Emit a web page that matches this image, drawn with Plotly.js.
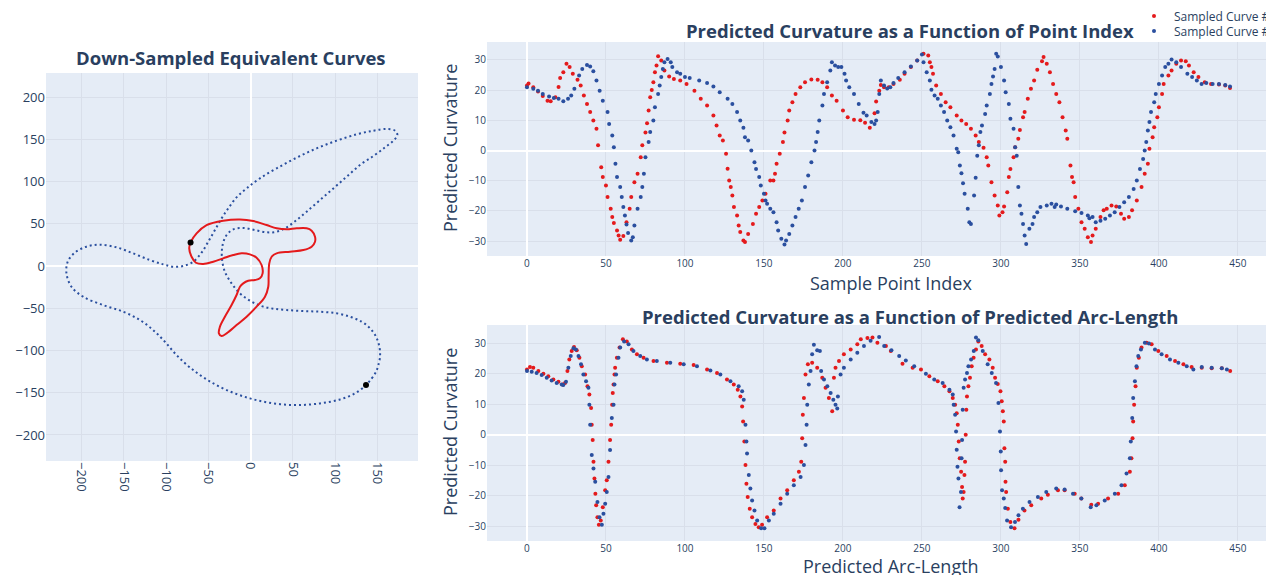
<!DOCTYPE html>
<html>
<head>
<meta charset="utf-8">
<script src="https://cdn.plot.ly/plotly-3.0.1.min.js"></script>
<style>html,body{margin:0;padding:0;overflow:hidden;background:#fff}</style>
</head>
<body>
<div id="chart"></div>
<script>
// ---------- Left panel: down-sampled curves (x, y) ----------
const curve1X = [-71.0,-63.9,-52.1,-32.4,-12.6,3.2,18.9,30.8,42.6,54.5,66.3,72.2,76.2,76.2,72.2,62.4,46.6,30.8,24.9,22.1,21.3,20.9,17.0,7.1,-4.7,-16.6,-28.4,-34.3,-37.5,-36.3,-30.4,-22.5,-16.6,-12.6,-8.7,-2.8,5.1,11.0,14.2,13.0,7.1,-0.8,-10.7,-20.5,-32.4,-44.2,-56.0,-64.7,-69.8,-72.6];
const curve1Y = [28.0,38.7,48.5,53.7,55.2,53.3,48.5,44.6,43.4,44.6,44.6,41.8,34.7,28.8,22.9,18.9,17.0,15.0,11.0,3.2,-12.6,-24.5,-36.3,-48.1,-60.0,-69.9,-79.7,-82.9,-79.7,-71.8,-60.0,-46.2,-34.3,-24.5,-20.5,-17.4,-16.6,-14.6,-8.7,1.2,9.9,13.8,15.0,13.0,9.1,5.1,2.4,3.9,11.0,20.9];
const curve2X = [136.5,143.3,148.4,151.1,153.1,152.3,148.4,141.3,131.4,117.6,101.8,82.1,62.4,42.6,26.8,13.0,-0.8,-12.6,-22.5,-30.4,-33.9,-33.1,-28.4,-20.5,-8.7,5.1,19.0,30.8,42.6,54.5,66.3,82.1,97.9,113.7,129.4,145.2,159.0,168.9,173.6,170.9,161.0,145.2,125.5,101.8,78.1,54.5,30.8,11.0,-4.7,-16.6,-26.4,-34.3,-42.2,-50.1,-58.0,-67.9,-79.7,-91.6,-103.4,-119.2,-138.9,-158.6,-178.4,-194.2,-208.0,-216.3,-217.8,-211.9,-198.1,-174.4,-150.7,-131.0,-115.2,-101.4,-87.6,-71.8,-52.1,-28.4,-0.8,26.8,54.5,82.1,105.8,123.6];
const curve2Y = [-140.9,-133.0,-125.1,-117.2,-107.3,-95.5,-83.7,-73.8,-65.9,-60.0,-56.0,-54.1,-53.3,-52.1,-50.5,-47.4,-41.0,-32.4,-20.5,-6.7,9.1,24.9,36.7,43.4,45.0,42.6,39.9,40.6,45.8,54.5,64.3,78.1,91.9,105.8,119.6,130.2,140.5,148.4,155.1,160.2,162.2,160.2,155.9,148.4,139.3,128.3,115.6,103.8,91.9,81.3,68.3,56.4,42.6,28.8,15.8,5.1,0.0,-0.8,2.0,7.1,15.0,22.1,25.3,22.9,15.8,5.1,-8.7,-24.5,-36.3,-46.2,-54.1,-63.9,-75.8,-89.6,-105.4,-120.0,-134.2,-146.8,-156.7,-162.6,-164.6,-162.6,-157.9,-150.7];

// ---------- Top right: curvature vs point index ----------
const c1Index = [0,1,4,7,10,13,15,18,20,21,23,25,27,29,32,34,36,38,40,42,44,45,47,48,50,51,53,54,55,57,58,59,61,63,65,66,68,70,72,73,75,76,77,78,79,80,81,82,83,85,87,90,93,97,101,106,110,114,118,120,122,124,126,127,128,129,130,131,133,134,135,137,138,140,143,145,147,149,151,154,156,157,158,160,162,163,165,166,168,170,173,176,180,184,187,190,193,196,200,203,207,211,214,217,220,221,223,224,226,229,232,236,239,243,247,251,254,255,256,257,259,262,265,268,272,275,278,281,284,286,289,291,292,294,296,298,299,301,302,304,305,306,308,309,311,312,314,315,317,319,321,323,326,327,329,331,333,335,337,339,341,342,344,345,346,347,349,351,353,355,357,358,360,363,365,367,370,373,376,378,381,383,386,389,391,393,394,396,397,399,400,402,403,406,408,411,414,417,419,422,425,429,433,438,442,445];
const c1Kappa = [21.5,22.2,20.9,19.5,18.0,16.5,16.3,17.6,21.0,24.0,25.9,28.7,27.6,25.4,23.4,21.5,18.2,15.4,12.7,9.9,7.2,1.7,-5.5,-8.8,-11.6,-15.4,-19.3,-22.0,-24.0,-26.5,-28.1,-29.5,-28.3,-23.7,-19.3,-15.4,-10.5,-7.7,-2.2,1.7,6.0,9.0,13.2,17.6,20.0,22.6,25.9,28.1,31.2,29.8,26.5,24.5,23.7,23.2,22.0,19.8,17.1,14.9,11.6,8.3,5.0,3.3,-1.1,-6.0,-9.9,-12.1,-14.9,-18.7,-21.5,-24.8,-27.0,-29.8,-30.3,-27.6,-24.3,-20.9,-18.7,-16.5,-14.3,-9.9,-9.9,-7.7,-4.4,-1.1,2.8,6.0,9.9,13.2,16.0,18.7,20.9,22.6,23.5,23.4,22.6,20.9,18.2,16.5,13.2,11.0,10.2,10.0,9.2,7.5,12.3,16.2,19.8,21.7,20.9,20.9,22.0,23.4,25.4,27.6,29.8,32.0,31.4,29.2,27.6,25.4,21.5,18.7,16.0,14.3,11.6,9.9,8.8,7.2,5.0,2.8,0.9,-2.2,-5.0,-10.5,-14.9,-18.2,-21.5,-20.4,-18.5,-13.8,-8.8,-6.1,-2.2,1.1,3.9,6.8,11.0,12.7,17.1,20.4,23.2,26.7,29.5,30.9,28.7,25.9,22.0,18.7,16.0,11.0,6.6,3.9,-5.0,-8.8,-10.5,-15.4,-19.3,-23.7,-25.9,-28.7,-30.3,-28.1,-25.9,-22.0,-19.8,-19.3,-18.2,-18.5,-20.9,-22.6,-22.0,-19.8,-16.5,-12.1,-7.7,-4.4,0.6,4.4,7.7,11.0,14.3,18.7,22.0,24.8,26.5,28.7,29.8,29.5,28.1,25.9,24.3,22.6,22.0,21.8,21.5,20.7];
const c2Index = [0,4,7,10,14,17,20,23,26,28,30,33,35,38,40,42,44,46,48,51,52,54,55,56,57,59,60,61,62,63,64,66,67,68,70,72,73,74,75,77,78,80,81,83,84,85,86,87,89,91,92,95,97,100,103,109,114,118,122,127,130,133,135,137,138,140,142,144,145,147,148,150,151,152,154,156,158,159,161,163,164,166,168,170,172,174,176,178,180,182,183,184,185,187,188,190,192,193,195,197,199,201,202,204,207,210,213,215,218,220,221,222,223,224,226,228,230,232,235,239,243,247,250,251,253,255,256,258,260,262,264,266,268,270,272,273,274,275,276,277,279,280,281,283,284,285,286,287,288,290,291,293,294,295,296,297,298,300,302,303,305,306,308,309,310,311,312,313,314,315,316,318,320,321,323,325,329,332,334,335,338,342,347,351,355,356,358,360,363,366,369,372,375,378,381,384,386,388,390,391,392,393,394,395,397,398,400,402,404,406,408,411,414,418,421,424,427,430,434,438,442,445];
const c2Kappa = [20.9,20.4,19.8,18.7,17.9,17.4,17.1,16.3,17.1,18.2,20.4,24.8,27.0,28.3,27.8,26.2,23.2,19.8,16.5,12.7,8.8,5.0,1.1,-4.4,-8.8,-12.1,-15.4,-18.7,-21.5,-24.5,-27.3,-29.8,-28.7,-24.8,-19.3,-15.4,-12.1,-7.7,-2.2,2.8,6.1,9.9,14.3,18.7,21.5,24.3,27.0,29.2,30.3,29.2,27.6,25.9,25.4,24.3,24.0,23.2,22.3,21.2,19.3,17.1,15.4,12.7,9.9,7.5,4.4,3.3,0.0,-3.9,-6.1,-8.8,-11.6,-14.3,-16.5,-17.6,-19.3,-20.4,-23.7,-26.5,-29.2,-31.1,-29.8,-27.6,-24.8,-22.0,-19.3,-16.5,-12.1,-8.3,-3.9,0.0,2.8,6.1,9.9,14.9,18.7,22.6,26.5,29.2,28.1,27.6,27.6,25.4,23.2,20.9,18.7,15.4,12.5,11.6,9.4,8.8,9.9,12.7,18.7,23.2,21.5,20.5,20.9,22.3,24.0,25.9,27.8,29.8,31.8,29.2,25.9,23.2,20.1,18.2,17.1,14.9,12.7,9.9,7.7,5.0,0.6,-0.6,-5.0,-7.5,-10.8,-14.3,-19.3,-23.7,-24.3,-14.9,-9.0,-1.7,1.7,6.1,8.3,12.1,14.9,18.7,22.0,24.5,27.0,32.0,31.1,27.6,23.2,19.3,15.4,10.5,7.2,1.1,-1.7,-12.1,-18.2,-20.9,-24.3,-28.1,-30.9,-25.9,-24.3,-22.0,-20.4,-18.7,-18.2,-17.6,-18.7,-17.9,-18.5,-19.3,-20.1,-20.7,-21.5,-22.4,-22.0,-23.7,-23.2,-22.6,-21.5,-20.4,-18.7,-17.1,-15.4,-12.7,-9.9,-6.1,-2.8,0.0,2.8,6.6,9.4,12.7,16.0,18.7,22.0,24.8,27.6,28.7,30.1,29.2,27.6,25.4,24.3,23.2,22.0,22.3,22.0,22.0,21.7,21.2];

// ---------- Bottom right: curvature vs predicted arc-length ----------
const c1Arc = [0,1.9,4,7.2,10.4,13.5,16.7,19.9,22.6,24.1,25.6,26.8,28.3,29.8,31.5,33.2,34.7,36.8,38.3,39.5,40.6,41,41.6,42.1,42.7,43.3,43.8,44.6,45.5,46.7,48,49.5,50.5,51.6,52.6,53.3,53.9,54.3,54.8,55.4,55.8,56.9,58.6,60.7,63.2,66.4,69.6,73.8,80.1,88.6,97,105.5,114,120.3,126.6,130.9,133.4,135.1,136.2,136.8,137.6,138.3,138.9,139.7,141,142.5,144.6,146.7,148.8,152,156.2,160.5,164.7,168.9,172.1,173.6,174.2,174.6,175.3,176.3,177.8,180.5,183.7,186.9,189,191.1,193.2,194.3,195.3,197.5,200.6,204.9,209.1,211.3,215.5,218.7,221.8,227.2,230.3,237.7,244.1,249.4,254.7,260,264.2,267.4,269.5,271,272,272.7,273.3,273.9,274.8,275.4,275.8,276.4,276.9,277.3,277.7,278.1,278.5,279.4,280.4,281.5,282.7,284.2,285.7,287.8,290,292.7,294.8,296.3,298,299.7,300.5,301.2,301.8,302.2,302.7,302.9,303.3,304.4,306,308.6,311.1,314.9,319.2,325.5,329.7,336.1,340.3,346.7,350.9,357.2,361.5,367.8,374.2,378.4,381.6,382.6,383.3,383.7,384.3,385.2,386,387.3,389,392.2,395.4,399.6,404.9,410.2,415.5,420.7,427.1,433.4,439.8,445.1];
const c1ArcKappa = [21.3,22.1,21.9,20.8,19.9,19.1,18.0,17.3,16.4,16.9,20.8,24.6,27.4,28.7,27.6,25.2,22.4,19.7,15.8,13.1,8.7,3.2,-1.8,-8.9,-14.4,-19.4,-23.2,-27.1,-29.6,-28.2,-23.8,-18.3,-15.0,-8.9,-1.8,3.2,9.8,13.6,16.4,19.7,21.9,25.2,28.5,31.2,30.5,27.9,26.3,25.2,24.1,23.5,23.2,22.8,21.3,20.2,18.0,16.4,14.7,12.5,9.2,4.3,-2.3,-10.0,-16.1,-20.5,-24.3,-27.1,-29.3,-30.4,-29.6,-27.1,-24.9,-21.0,-18.3,-15.0,-12.2,-8.9,-1.2,6.5,12.0,19.7,23.0,23.5,21.9,18.6,15.3,12.0,7.6,18.6,21.9,24.1,26.3,27.9,29.6,31.2,31.6,31.8,30.1,29.0,27.4,23.2,21.9,21.3,19.1,17.5,15.8,14.2,12.0,9.8,7.0,3.2,-2.3,-7.8,-12.2,-17.2,-21.0,-18.8,-13.3,-8.9,-0.1,8.1,12.5,15.8,18.6,22.4,25.2,27.9,30.5,29.0,26.3,24.6,21.9,18.6,16.6,14.2,10.9,7.6,4.3,-4.5,-8.9,-15.5,-18.8,-24.3,-28.7,-30.7,-27.9,-24.9,-23.2,-21.0,-19.7,-18.3,-18.3,-19.4,-21.0,-23.0,-22.7,-21.0,-19.4,-16.6,-12.2,-7.8,-1.2,4.3,9.8,15.8,21.9,25.2,28.5,30.1,29.6,27.4,25.7,24.1,23.0,22.1,21.9,21.7,21.7,20.8];
const c2Arc = [0,3,6.1,9.3,12.5,15.6,18.8,22,23,24.7,26.2,27.7,29.4,30.9,32.6,34.2,35.7,37.4,38.9,39.5,40,41,42.1,43.2,44.6,45.9,47.4,48.4,49.5,50.5,51.6,52.6,53.7,54.8,55.4,56.4,57.9,59,61.5,64.3,67.4,71.7,75.9,82.2,90.7,99.2,107.6,116.1,122.4,128.8,134,136.2,137.2,138.3,138.9,139.3,140.4,141.4,142.5,144,145.7,148.2,150.3,153.1,156.2,160.5,164.7,168.9,173.2,175.3,176.3,177,177.4,178.4,179.5,180.5,181.6,183.7,185.4,186.2,188,190.1,192.2,193.9,195.3,196.4,196.8,198.5,200.6,204.9,209.1,213.3,217.5,222.9,226.1,230.7,235.6,239.8,245.1,252.5,257.8,263.1,267.4,269.5,270.1,271,271.6,272,272.5,273.1,273.8,274.7,275.1,275.4,275.8,276.4,277.3,278.5,279.4,281.1,282.8,284.2,285.7,288.5,291.6,294.2,296.9,298.4,299.4,299.9,300.1,300.7,301.8,302.7,303.9,306.4,308.9,311.1,313.9,318.1,323.4,328.7,335,340.3,345.6,350.9,356.8,360.4,365.7,372.1,376.3,379.5,381.6,382.2,383.1,383.7,384.8,385.8,386.9,388.6,391.1,393.7,397.5,401.7,407,412.3,417.6,421.8,427.1,433.4,439.8,443];
const c2ArcKappa = [20.8,20.6,20.2,19.5,18.6,17.7,16.9,16.4,16.2,17.3,21.9,25.7,28.3,27.9,25.7,23.0,19.7,17.5,15.3,9.8,3.2,-6.7,-11.1,-15.5,-22.1,-27.1,-29.6,-26.0,-22.7,-18.8,-13.9,-5.1,5.4,9.8,16.4,19.7,25.2,28.5,30.5,29.6,27.4,25.7,24.6,24.1,23.5,23.0,22.4,21.0,19.7,17.5,15.8,14.2,11.4,3.2,-2.3,-6.2,-13.3,-17.7,-21.6,-24.9,-28.2,-30.7,-30.7,-28.2,-26.0,-22.7,-19.4,-16.6,-13.9,-10.0,-3.4,3.2,9.8,16.4,20.8,26.3,29.4,27.6,27.4,20.8,18.0,15.8,13.6,11.4,9.8,8.5,12.5,19.7,21.9,24.6,26.8,29.0,30.7,32.0,29.0,27.6,25.7,24.3,22.4,19.9,18.0,16.9,14.7,13.1,9.8,6.5,1.0,-5.0,-10.6,-14.4,-23.8,-18.8,-7.8,-1.8,8.1,15.3,18.0,20.2,22.4,24.6,27.4,31.8,30.9,27.4,23.0,20.2,16.9,10.3,1.0,-5.6,-11.7,-18.3,-21.0,-24.1,-28.2,-30.4,-28.7,-26.5,-24.3,-22.1,-20.5,-18.8,-17.7,-18.0,-19.4,-21.0,-23.8,-23.2,-21.6,-19.4,-16.6,-12.8,-7.8,-2.3,5.4,12.0,17.5,22.4,25.7,27.9,30.1,29.8,27.9,26.3,24.6,23.5,22.4,21.3,22.1,21.9,21.7,21.3];

const seriesNames = ['Sampled Curve #1', 'Sampled Curve #2'];
const panelTitles = ['Down-Sampled Equivalent Curves', 'Predicted Curvature as a Function of Point Index', 'Predicted Curvature as a Function of Predicted Arc-Length'];
const axisTitles = ['Sample Point Index', 'Predicted Arc-Length', 'Predicted Curvature'];

// ---------- styling / geometry ----------
const W = 1300, H = 590;
const RED = '#e41a1c', BLUE = '#2a4f9f';
const GRID = '#d9dfea';
const TXT = '#2a3f5f';
const fx = p => p / W;
const fy = p => 1 - p / H;
const closeLoop = a => a.concat([a[0]]);

const traces = [
  {x: closeLoop(curve2X), y: closeLoop(curve2Y), xaxis:'x', yaxis:'y', mode:'lines', showlegend:false,
   line:{color:BLUE, width:2, dash:'2px,3px', shape:'spline', smoothing:1}, hoverinfo:'skip'},
  {x: closeLoop(curve1X), y: closeLoop(curve1Y), xaxis:'x', yaxis:'y', mode:'lines', showlegend:false,
   line:{color:RED, width:2, shape:'spline', smoothing:1}, hoverinfo:'skip'},
  {x: [curve1X[0], curve2X[0]], y: [curve1Y[0], curve2Y[0]], xaxis:'x', yaxis:'y', mode:'markers', showlegend:false,
   marker:{color:'black', size:6}},
  {x: c1Index, y: c1Kappa, xaxis:'x2', yaxis:'y2', mode:'markers', name: seriesNames[0], legend:'legend',
   marker:{color:RED, size:4}},
  {x: c2Index, y: c2Kappa, xaxis:'x2', yaxis:'y2', mode:'markers', name: seriesNames[1], legend:'legend2',
   marker:{color:BLUE, size:4}},
  {x: c1Arc, y: c1ArcKappa, xaxis:'x3', yaxis:'y3', mode:'markers', name: seriesNames[0], showlegend:false,
   marker:{color:RED, size:4}},
  {x: c2Arc, y: c2ArcKappa, xaxis:'x3', yaxis:'y3', mode:'markers', name: seriesNames[1], showlegend:false,
   marker:{color:BLUE, size:4}}
];

const axBase = {gridcolor: GRID, gridwidth: 1, zeroline: true, zerolinecolor: 'white', zerolinewidth: 2,
  showline: false, ticks: '', automargin: false};
const legBase = {x: fx(1134), xanchor: 'left', yanchor: 'middle', bgcolor: 'rgba(0,0,0,0)',
  font: {size: 12, color: TXT}};
const ann = (text, x, y, size, angle, bold) => ({text: bold ? '<b>' + text + '</b>' : text,
  xref: 'paper', yref: 'paper', x: fx(x), y: fy(y), xanchor: 'center', yanchor: 'middle',
  showarrow: false, textangle: angle, font: {size: size, color: TXT}});

const layout = {
  width: W, height: H,
  margin: {l: 0, r: 0, t: 0, b: 0},
  paper_bgcolor: 'white', plot_bgcolor: '#E5ECF6',
  font: {family: '"Open Sans", verdana, arial, sans-serif', color: TXT, size: 12},
  showlegend: true,
  legend: Object.assign({}, legBase, {y: fy(16)}),
  legend2: Object.assign({}, legBase, {y: fy(31)}),
  xaxis: Object.assign({}, axBase, {anchor: 'y', domain: [fx(46), fx(418)], range: [-242, 198], dtick: 50,
    tickangle: 90, tickfont: {size: 13}}),
  yaxis: Object.assign({}, axBase, {anchor: 'x', domain: [fy(461), fy(73)], range: [-230.8, 228.5], dtick: 50,
    tickfont: {size: 13}}),
  xaxis2: Object.assign({}, axBase, {anchor: 'y2', domain: [fx(487), fx(1294)], range: [-25.3, 485.5], dtick: 50,
    tickfont: {size: 10}}),
  yaxis2: Object.assign({}, axBase, {anchor: 'x2', domain: [fy(256), fy(42)], range: [-34.9, 35.9], dtick: 10,
    tickfont: {size: 10}}),
  xaxis3: Object.assign({}, axBase, {anchor: 'y3', domain: [fx(487), fx(1294)], range: [-25.3, 485.5], dtick: 50,
    tickfont: {size: 10}}),
  yaxis3: Object.assign({}, axBase, {anchor: 'x3', domain: [fy(541), fy(325)], range: [-34.9, 35.9], dtick: 10,
    tickfont: {size: 10}}),
  annotations: [
    ann(panelTitles[0], 231, 57, 18.5, 0, true),
    ann(panelTitles[1], 910, 31, 18.5, 0, true),
    ann(panelTitles[2], 910, 316, 18.5, 0, true),
    ann(axisTitles[0], 890.5, 283, 18, 0, false),
    ann(axisTitles[1], 890.5, 566, 18, 0, false),
    ann(axisTitles[2], 450, 148, 18, -90, false),
    ann(axisTitles[2], 450, 432, 18, -90, false)
  ]
};

Plotly.newPlot('chart', traces, layout, {displayModeBar: false, staticPlot: true});
</script>
</body>
</html>
